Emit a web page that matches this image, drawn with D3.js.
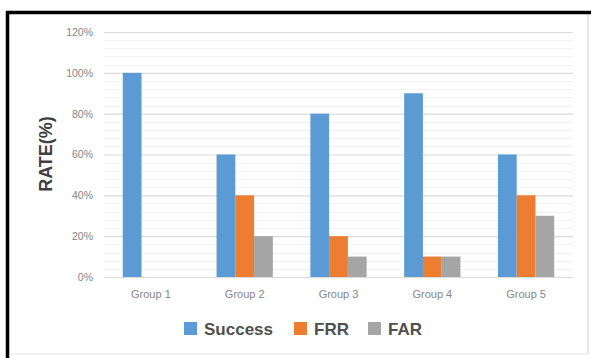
<!DOCTYPE html>
<html>
<head>
<meta charset="utf-8">
<script src="https://cdn.jsdelivr.net/npm/d3@7"></script>
<style>
  html, body { margin: 0; padding: 0; background: #ffffff; }
  svg { display: block; }
</style>
</head>
<body>
<svg id="chart" width="591" height="358"></svg>
<script>
const groups = ["Group 1", "Group 2", "Group 3", "Group 4", "Group 5"];
const seriesNames = ["Success", "FRR", "FAR"];
const successValues = [100, 60, 80, 90, 60];
const frrValues = [0, 40, 20, 10, 40];
const farValues = [0, 20, 10, 10, 30];
const yTicks = [0, 20, 40, 60, 80, 100, 120];
const yMinorTicks = d3.range(0, 121, 4);
const colors = ["#5B9BD5", "#ED7D31", "#A5A5A5"];

const seriesValues = [successValues, frrValues, farValues];

const svg = d3.select("#chart");

// frame
svg.append("rect").attr("x", 0).attr("y", 0).attr("width", 591).attr("height", 358).attr("fill", "#ffffff");
svg.append("line").attr("x1", 588).attr("x2", 588).attr("y1", 13).attr("y2", 354)
  .attr("stroke", "#d0d0d0").attr("stroke-width", 1);
svg.append("line").attr("x1", 7).attr("x2", 588).attr("y1", 354).attr("y2", 354)
  .attr("stroke", "#e4e4e4").attr("stroke-width", 1);
svg.append("line").attr("x1", 6).attr("x2", 591).attr("y1", 12.5).attr("y2", 12.5)
  .attr("stroke", "#000").attr("stroke-width", 3.5);
svg.append("line").attr("x1", 7.5).attr("x2", 7.5).attr("y1", 11).attr("y2", 358)
  .attr("stroke", "#000").attr("stroke-width", 3.5);

const x = d3.scaleBand().domain(groups).range([104, 573]).paddingInner(0.4).paddingOuter(0.2);
const xs = d3.scaleBand().domain(seriesNames).range([0, x.bandwidth()]);
const y = d3.scaleLinear().domain([0, 120]).range([277, 32]);

// minor grid
svg.append("g").selectAll("line").data(yMinorTicks.filter(v => v % 20 !== 0)).join("line")
  .attr("x1", 104).attr("x2", 573)
  .attr("y1", d => Math.round(y(d)) + 0.5).attr("y2", d => Math.round(y(d)) + 0.5)
  .attr("stroke", "#f2f2f2").attr("stroke-width", 1);

// y axis with major grid
const yAxis = d3.axisLeft(y).tickValues(yTicks).tickFormat(d => d + "%").tickSize(-(573 - 104)).tickPadding(11);
const gy = svg.append("g").attr("transform", "translate(104,0)").call(yAxis);
gy.select(".domain").remove();
gy.selectAll(".tick line").attr("stroke", "#dadada").attr("stroke-width", 1.2);
gy.selectAll(".tick text").attr("fill", "#858585").attr("font-family", "Liberation Sans, Arial, sans-serif").attr("font-size", "10.5px");

// bars
const gGroups = svg.append("g").selectAll("g").data(groups).join("g")
  .attr("transform", d => `translate(${x(d)},0)`);
gGroups.selectAll("rect").data((g, gi) => seriesNames.map((s, si) => ({ s, si, v: seriesValues[si][gi] })))
  .join("rect")
  .attr("x", d => xs(d.s))
  .attr("width", xs.bandwidth())
  .attr("y", d => y(d.v))
  .attr("height", d => y(0) - y(d.v))
  .attr("fill", d => colors[d.si]);

// x axis labels
const xAxis = d3.axisBottom(x).tickSize(0).tickPadding(13);
const gx = svg.append("g").attr("transform", "translate(0,277)").call(xAxis);
gx.select(".domain").attr("stroke", "#dadada").attr("stroke-width", 1.2);
gx.selectAll(".tick text").attr("fill", "#858585").attr("font-family", "Liberation Sans, Arial, sans-serif").attr("font-size", "11px");

// y title
svg.append("text")
  .attr("transform", "translate(52,154) rotate(-90)")
  .attr("text-anchor", "middle")
  .attr("font-family", "Liberation Sans, Arial, sans-serif")
  .attr("font-weight", "bold")
  .attr("font-size", "18px")
  .attr("fill", "#404040")
  .text("RATE(%)");

// legend
const legendX = [184, 294, 368];
const lg = svg.append("g").selectAll("g").data(seriesNames).join("g")
  .attr("transform", (d, i) => `translate(${legendX[i]},322)`);
lg.append("rect").attr("width", 13).attr("height", 13).attr("fill", (d, i) => colors[i]);
lg.append("text").attr("x", 20).attr("y", 13)
  .attr("font-family", "Liberation Sans, Arial, sans-serif")
  .attr("font-weight", "bold").attr("font-size", "17px").attr("fill", "#505050")
  .text(d => d);
</script>
</body>
</html>
